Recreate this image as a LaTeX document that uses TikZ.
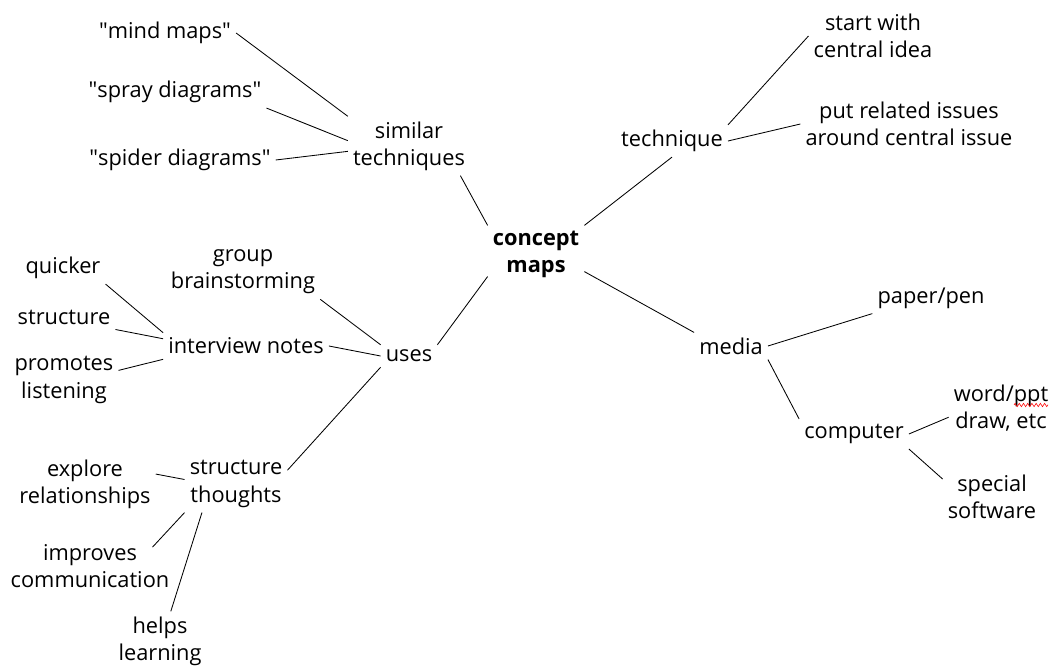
\documentclass[tikz,border=0pt]{standalone}
\usepackage{fontspec}
\setmainfont{Open Sans}
\usetikzlibrary{calc,positioning,decorations.pathmorphing}
\tikzset{
  lbl/.style={align=center,inner sep=3.5pt,font=\fontsize{15.5}{19.3}\selectfont},
  hub/.style={lbl,font=\fontsize{15.5}{19.3}\selectfont\bfseries},
  link/.style={line width=0.6pt,black}
}
\newcommand{\qt}{\textquotedbl}
\begin{document}
\begin{tikzpicture}[x=0.025cm,y=-0.025cm]
\useasboundingbox (0,0) rectangle (1064,669);
% centre
\node[hub] (cm) at (536,254) {concept\\maps};
% similar techniques
\node[lbl] (sim) at (409,146) {similar\\techniques};
\node[lbl] (mind) at (165,33) {\qt mind maps\qt};
\node[lbl] (spray) at (175,92) {\qt spray diagrams\qt};
\node[lbl] (spider) at (180,160) {\qt spider diagrams\qt};
% technique
\node[lbl] (tech) at (672,141) {technique};
\node[lbl] (start) at (873,36) {start with\\central idea};
\node[lbl] (put) at (909,124) {put related issues\\around central issue};
% media
\node[lbl] (media) at (731,346) {media};
\node[lbl] (paper) at (931,298) {paper/pen};
\node[lbl] (comp) at (854,434) {computer};
\node[lbl] (word) at (1001,408) {word/ppt\\draw, etc};
\node[lbl] (spec) at (992,497) {special\\software};
% uses
\node[lbl] (uses) at (409,356) {uses};
\node[lbl] (group) at (243,272) {group\\brainstorming};
\node[lbl] (inter) at (246,346) {interview notes};
\node[lbl] (quick) at (63,268) {quicker};
\node[lbl] (struc) at (64,317) {structure};
\node[lbl] (prom) at (64,380) {promotes\\listening};
\node[lbl] (stt) at (236,484) {structure\\thoughts};
\node[lbl] (expl) at (85,484) {explore\\relationships};
\node[lbl] (impr) at (90,566) {improves\\communication};
\node[lbl] (help) at (160,641) {helps\\learning};
% spell-check squiggle
\draw[red,decorate,decoration={zigzag,amplitude=1.2pt,segment length=3pt}] (1014,405) -- (1048,405);
% connectors
\draw[link] (mind.east) -- (sim.north west);
\draw[link] (spray.south east) -- (sim.175);
\draw[link] (spider.east) -- (sim.185);
\draw[link] (sim.-30) -- (cm.north west);
\draw[link] (cm.north east) -- (tech.south);
\draw[link] (tech.north east) -- (start.west);
\draw[link] (tech.east) -- (put.west);
\draw[link] (cm.-20) -- (media.north west);
\draw[link] (media.east) -- (paper.south west);
\draw[link] (media.south east) -- (comp.north west);
\draw[link] (comp.east) -- (word.190);
\draw[link] (comp.south east) -- (spec.160);
\draw[link] (cm.205) -- (uses.north east);
\draw[link] (uses.north west) -- (group.south east);
\draw[link] (uses.west) -- (inter.east);
\draw[link] (uses.south west) -- (stt.15);
\draw[link] (inter.north west) -- (quick.south east);
\draw[link] (inter.175) -- (struc.south east);
\draw[link] (inter.south west) -- (prom.10);
\draw[link] (stt.175) -- (expl.8);
\draw[link] (stt.south west) -- ($(impr.north east)+(-22,8)$);
\draw[link] (stt.220) -- (help.70);
\end{tikzpicture}
\end{document}
